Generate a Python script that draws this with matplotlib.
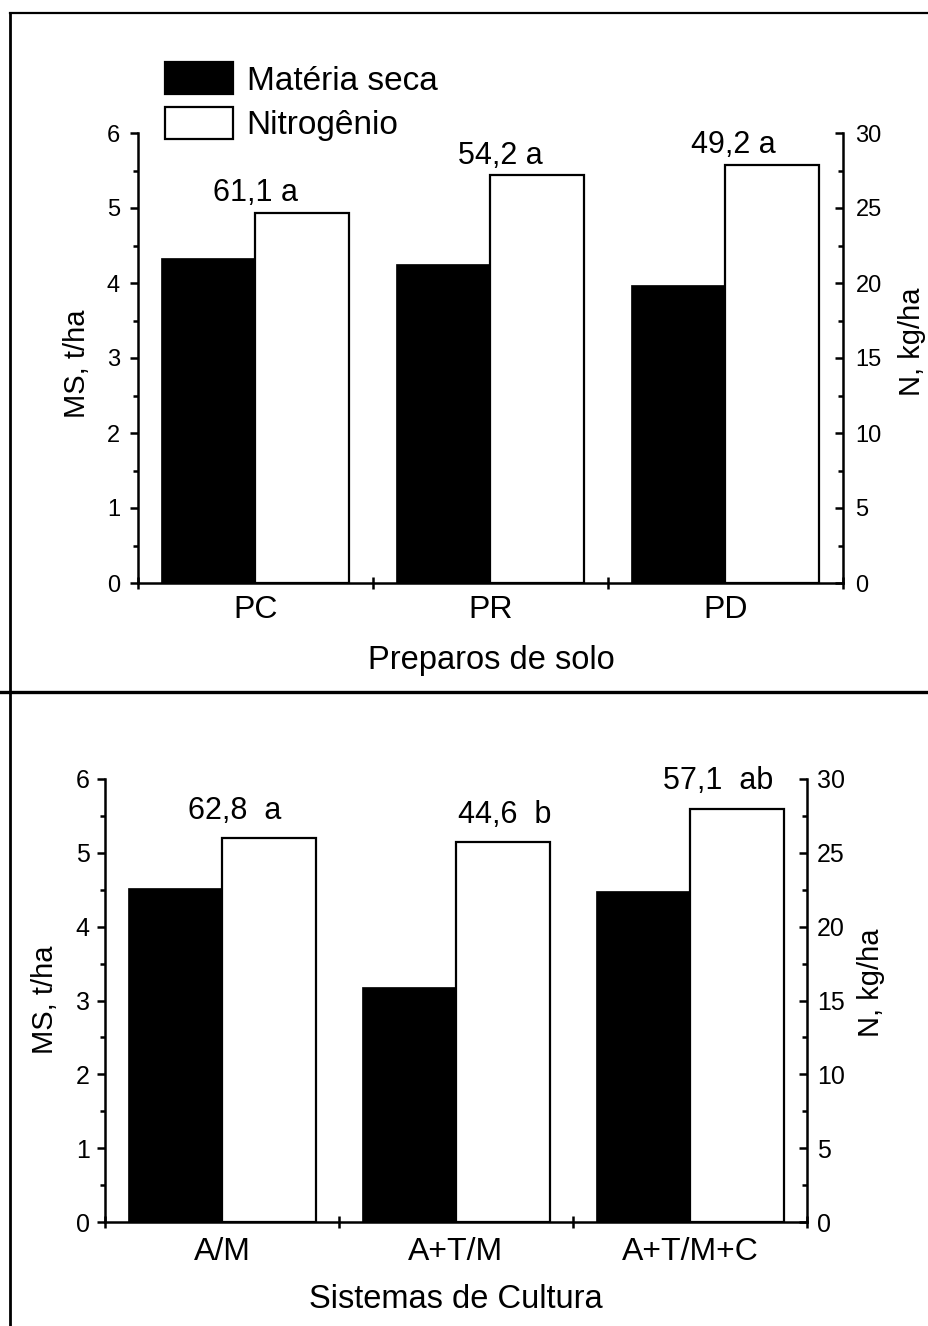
import matplotlib
matplotlib.use("Agg")
import matplotlib.pyplot as plt
from matplotlib.patches import Rectangle
from matplotlib.lines import Line2D
import numpy as np

plt.rcParams['font.family'] = ['Liberation Sans', 'DejaVu Sans']

# ---- data ----
prep_categories = ['PC', 'PR', 'PD']
prep_ms = [4.33, 4.26, 3.97]          # t/ha (left axis)
prep_n = [24.7, 27.2, 27.9]           # kg/ha (right axis)
prep_labels = ['61,1 a', '54,2 a', '49,2 a']
prep_label_dx = [0.0, 0.04, 0.035]

sist_categories = ['A/M', 'A+T/M', 'A+T/M+C']
sist_ms = [4.53, 3.18, 4.48]
sist_n = [26.0, 25.7, 28.0]
sist_labels = ['62,8  a', '44,6  b', '57,1  ab']
sist_label_dx = [0.055, 0.21, 0.12]

legend_labels = ['Matéria seca', 'Nitrogênio']
ms_ticks = [0, 1, 2, 3, 4, 5, 6]
n_ticks = [0, 5, 10, 15, 20, 25, 30]

W, H = 929, 1326
fig = plt.figure(figsize=(W / 100, H / 100), dpi=100)

LW = 1.8
BW = 0.4


def px_rect(l, t, r, b):
    return [l / W, 1 - b / H, (r - l) / W, (b - t) / H]


def panel(rect, cats, ms, n, labels, ldx, xlabel, tick_fs, xtick_fs, lpad, rpad,
          xpad, label_off, ylab_pos, nlab_pos, xlab_pos):
    ax = fig.add_axes(rect)
    ax2 = ax.twinx()
    x = np.arange(len(cats))
    ax.bar(x, ms, width=-BW, align='edge', color='black', edgecolor='black',
           linewidth=0.5, zorder=2)
    ax2.bar(x, n, width=BW, align='edge', color='white', edgecolor='black',
            linewidth=1.6, zorder=2)
    ax.set_xlim(-0.5, 2.5)
    ax.set_ylim(0, 6)
    ax2.set_ylim(0, 30)
    for a in (ax, ax2):
        a.spines['top'].set_visible(False)
        for s in a.spines.values():
            s.set_linewidth(LW)
    ax.spines['right'].set_visible(False)
    ax2.spines['left'].set_visible(False)
    ax2.spines['bottom'].set_visible(False)
    ax.patch.set_visible(False)

    ax.set_yticks(ms_ticks)
    ax.set_yticks(np.arange(0.5, 6, 1.0), minor=True)
    ax.tick_params(axis='y', which='major', direction='out', length=6, width=LW,
                   labelsize=tick_fs, pad=lpad)
    ax.tick_params(axis='y', which='minor', direction='out', length=3.5, width=LW)
    ax2.set_yticks(n_ticks)
    ax2.set_yticks(np.arange(2.5, 30, 5.0), minor=True)
    ax2.tick_params(axis='y', which='major', direction='in', length=6, width=LW,
                    labelsize=tick_fs, pad=rpad)
    ax2.tick_params(axis='y', which='minor', direction='in', length=3.5, width=LW)

    ax.set_xticks(x)
    ax.set_xticklabels(cats)
    ax.set_xticks([-0.5, 0.5, 1.5, 2.5], minor=True)
    ax.tick_params(axis='x', which='major', length=0, labelsize=xtick_fs, pad=xpad)
    ax.tick_params(axis='x', which='minor', direction='inout', length=9, width=LW)

    for xi, v, lab, dx in zip(x, n, labels, ldx):
        ax2.annotate(lab, xy=(xi + dx, v), xytext=(0, label_off),
                     textcoords='offset points', ha='center', va='baseline',
                     fontsize=22)

    fig.text(ylab_pos[0] / W, 1 - ylab_pos[1] / H, 'MS, t/ha', rotation=90,
             ha='center', va='center', fontsize=21)
    fig.text(nlab_pos[0] / W, 1 - nlab_pos[1] / H, 'N, kg/ha', rotation=90,
             ha='center', va='center', fontsize=21)
    fig.text(xlab_pos[0] / W, 1 - xlab_pos[1] / H, xlabel,
             ha='center', va='center', fontsize=23.5)
    return ax, ax2


ax_a, ax_a2 = panel(px_rect(138, 133, 843, 583), prep_categories, prep_ms, prep_n,
                    prep_labels, prep_label_dx, 'Preparos de solo',
                    17, 23, 7, 9, 9, 8, (77, 364), (912, 342), (491, 660))

ax_b, ax_b2 = panel(px_rect(105, 779, 807, 1222), sist_categories, sist_ms, sist_n,
                    sist_labels, sist_label_dx, 'Sistemas de Cultura',
                    18, 23, 5, 7, 11, 14, (45, 1000), (871, 983), (456, 1300))

# legend
handles = [Rectangle((0, 0), 1, 1, facecolor='black', edgecolor='black', linewidth=1.6),
           Rectangle((0, 0), 1, 1, facecolor='white', edgecolor='black', linewidth=1.6)]
fig.legend(handles, legend_labels, loc='upper left',
           bbox_to_anchor=(165 / W, 1 - 62 / H), bbox_transform=fig.transFigure,
           frameon=False, fontsize=24, handlelength=2.05, handleheight=1.12,
           handletextpad=0.4, labelspacing=0.3, borderpad=0, borderaxespad=0)

# frame lines
fig.add_artist(Line2D([10 / W, 1], [1 - 13 / H, 1 - 13 / H], transform=fig.transFigure,
                      color='black', linewidth=1.6))
fig.add_artist(Line2D([10 / W, 10 / W], [1 - 13 / H, 0], transform=fig.transFigure,
                      color='black', linewidth=2.0))
fig.add_artist(Line2D([0, 1], [1 - 692 / H, 1 - 692 / H], transform=fig.transFigure,
                      color='black', linewidth=2.4))

fig.savefig('out.png', dpi=100)
